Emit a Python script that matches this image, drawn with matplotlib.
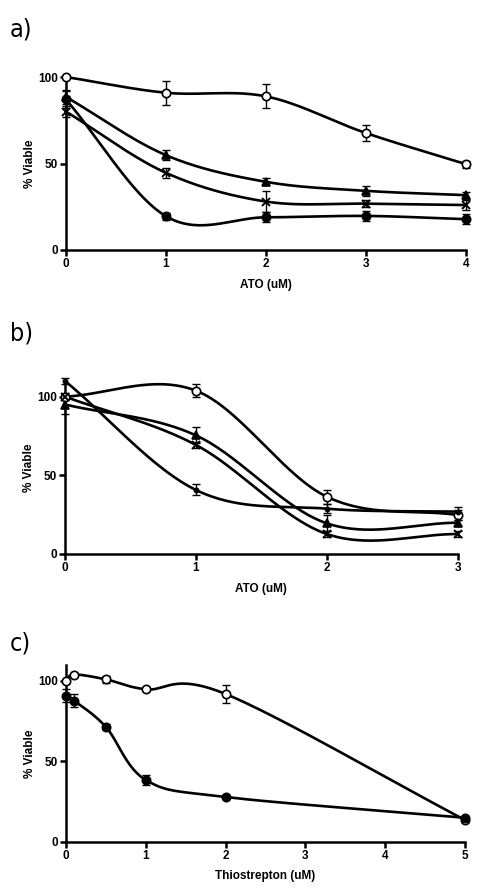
import numpy as np
import matplotlib
matplotlib.use("Agg")
import matplotlib.pyplot as plt

# ---------------- data ----------------
# Panel a: ATO (uM)
a_x = [0, 1, 2, 3, 4]
a_open = [100, 90.9, 88.8, 67.6, 49.6]
a_open_err = [0, 7, 7, 4.5, 2]
a_tri = [88.5, 54.8, 39.4, 34.2, 31.7]
a_tri_err = [4, 3, 2, 3, 2]
a_star = [80, 44.6, 28, 26.8, 26]
a_star_err = [3, 3, 6, 2, 3]
a_fill = [87, 19.5, 18.9, 19.7, 17.8]
a_fill_err = [5, 2, 3, 3, 3]

# Panel b: ATO (uM)
b_x = [0, 1, 2, 3]
b_open = [100, 103.8, 36.4, 24.8]
b_open_err = [0, 4, 4.5, 3]
b_tri = [95, 75.4, 19.5, 19.9]
b_tri_err = [6, 5, 5, 2]
b_star = [100, 69.3, 12.7, 12.7]
b_star_err = [2, 2, 2, 2]
b_fill = [110, 40.7, 28.8, 26.9]
b_fill_err = [2, 3.5, 3, 3]

# Panel c: Thiostrepton (uM)
c_x = [0, 0.1, 0.5, 1, 2, 5]
c_open = [100, 104, 101, 94.8, 91.9, 13.5]
c_open_err = [0, 1, 2, 1, 5.5, 1]
c_fill = [90.7, 87.8, 71.4, 38.4, 27.8, 14.9]
c_fill_err = [4, 4, 2, 3, 1, 1]


def smooth_curve(x, y, n=60):
    """Parametric Catmull-Rom spline through the data points."""
    P = np.column_stack([np.asarray(x, float), np.asarray(y, float)])
    k = len(P)
    T = np.zeros_like(P)
    for i in range(k):
        if i == 0:
            T[i] = (P[1] - P[0])
        elif i == k - 1:
            T[i] = (P[-1] - P[-2])
        else:
            T[i] = (P[i + 1] - P[i - 1]) / 2
    xs, ys = [], []
    t = np.linspace(0, 1, n)
    h00 = 2 * t ** 3 - 3 * t ** 2 + 1
    h10 = t ** 3 - 2 * t ** 2 + t
    h01 = -2 * t ** 3 + 3 * t ** 2
    h11 = t ** 3 - t ** 2
    for i in range(k - 1):
        seg = (h00[:, None] * P[i] + h10[:, None] * T[i]
               + h01[:, None] * P[i + 1] + h11[:, None] * T[i + 1])
        xs.append(seg[:, 0])
        ys.append(seg[:, 1])
    return np.concatenate(xs), np.concatenate(ys)


plt.rcParams['font.family'] = ['Liberation Sans', 'DejaVu Sans']

fig = plt.figure(figsize=(4.82, 8.91), dpi=100)

LW = 1.9
SPW = 1.8
FS = 8.5


def style_axes(ax, xlim, ylim, xticks, yticks, xlabel):
    ax.set_xlim(*xlim)
    ax.set_ylim(*ylim)
    ax.set_xticks(xticks)
    ax.set_yticks(yticks)
    ax.set_xticklabels([str(t) for t in xticks], fontweight='bold', fontsize=FS)
    ax.set_yticklabels([str(t) for t in yticks], fontweight='bold', fontsize=FS)
    for s in ['top', 'right']:
        ax.spines[s].set_visible(False)
    for s in ['left', 'bottom']:
        ax.spines[s].set_linewidth(SPW)
    ax.tick_params(direction='out', width=SPW, length=4, pad=2)
    ax.set_xlabel(xlabel, fontweight='bold', fontsize=FS, labelpad=6)
    ax.set_ylabel('% Viable', fontweight='bold', fontsize=FS, labelpad=1)
    ax.patch.set_alpha(0)


def series(ax, x, y, err, marker, face, ms=6, mew=1.2):
    xs, ys = smooth_curve(x, y)
    ax.plot(xs, ys, color='black', lw=LW, zorder=2, clip_on=False, solid_capstyle='round')
    ax.errorbar(x, y, yerr=err, fmt='none', ecolor='black', elinewidth=1.0,
                capsize=3, capthick=1.0, zorder=3, clip_on=False)
    ax.plot(x, y, linestyle='none', marker=marker, ms=ms, mfc=face, mec='black',
            mew=mew, zorder=4, clip_on=False)


# Panel a
axa = fig.add_axes([66 / 482, 1 - 250 / 891, 400 / 482, 173 / 891])
series(axa, a_x, a_open, a_open_err, 'o', 'white')
series(axa, a_x, a_tri, a_tri_err, '^', 'black')
series(axa, a_x, a_star, a_star_err, 'x', 'black', ms=6, mew=1.4)
series(axa, a_x, a_fill, a_fill_err, 'o', 'black')
style_axes(axa, (0, 4), (0, 100), [0, 1, 2, 3, 4], [0, 50, 100], 'ATO (uM)')

# Panel b
axb = fig.add_axes([65 / 482, 1 - 554 / 891, 392.7 / 482, 173.1 / 891])
series(axb, b_x, b_open, b_open_err, 'o', 'white')
series(axb, b_x, b_tri, b_tri_err, '^', 'black')
series(axb, b_x, b_star, b_star_err, 'x', 'black', ms=6, mew=1.4)
series(axb, b_x, b_fill, b_fill_err, 'o', 'black', ms=3)
style_axes(axb, (0, 3), (0, 110), [0, 1, 2, 3], [0, 50, 100], 'ATO (uM)')

# Panel c
axc = fig.add_axes([66 / 482, 1 - 841.7 / 891, 399 / 482, 176.8 / 891])
series(axc, c_x, c_open, c_open_err, 'o', 'white')
series(axc, c_x, c_fill, c_fill_err, 'o', 'black')
style_axes(axc, (0, 5), (0, 110), [0, 1, 2, 3, 4, 5], [0, 50, 100], 'Thiostrepton (uM)')

for lab, yy in [('a)', 30), ('b)', 333), ('c)', 643)]:
    fig.text(10 / 482, 1 - yy / 891, lab, fontsize=18, ha='left', va='center',
             family=['DejaVu Sans'], fontstretch='condensed')

fig.savefig('out.png', dpi=100, facecolor='white')
